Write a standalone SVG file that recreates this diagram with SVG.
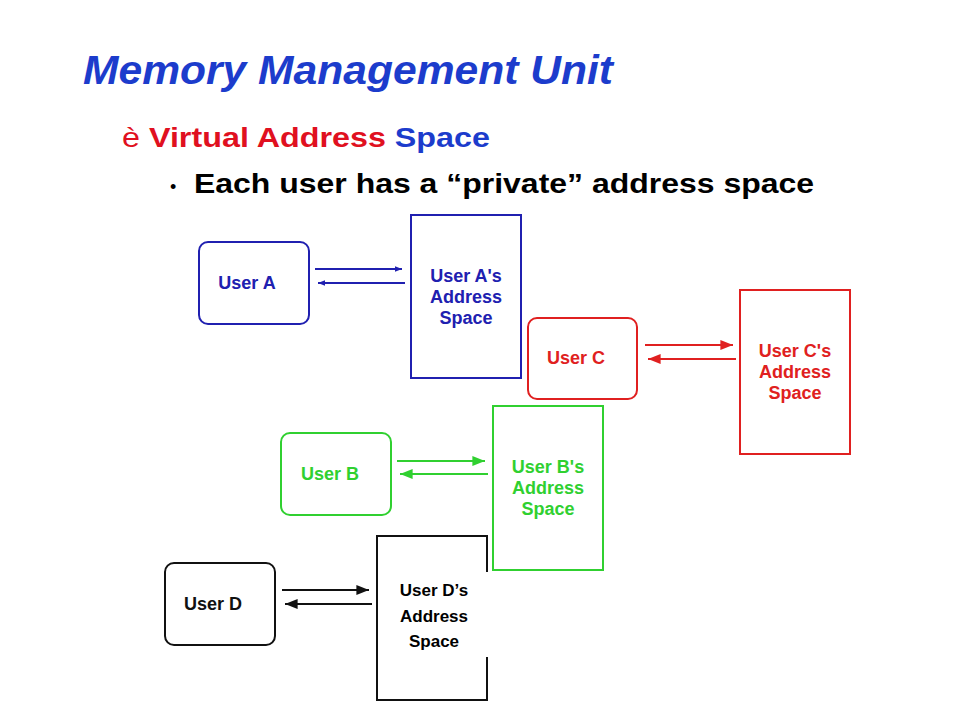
<svg xmlns="http://www.w3.org/2000/svg" width="960" height="720" viewBox="0 0 960 720">
<style>
.ub{fill:#fff;stroke-width:2}
.sp{fill:#fff;stroke-width:2}
.lbl{font-family:"Liberation Sans",Arial,sans-serif;font-weight:bold;font-size:18px;text-anchor:middle}
line{stroke-width:1.8}
</style>
<defs>
<marker id="ab" viewBox="0 0 10 10" refX="10" refY="5" markerWidth="7" markerHeight="7" orient="auto" markerUnits="userSpaceOnUse"><path d="M0,1 L10,5 L0,9 z" fill="#2020b0"/></marker>
<marker id="ar" viewBox="0 0 10 10" refX="10" refY="5" markerWidth="7" markerHeight="7" orient="auto"><path d="M0,1 L10,5 L0,9 z" fill="#e02020"/></marker>
<marker id="ag" viewBox="0 0 10 10" refX="10" refY="5" markerWidth="7" markerHeight="7" orient="auto"><path d="M0,1 L10,5 L0,9 z" fill="#30d030"/></marker>
<marker id="ak" viewBox="0 0 10 10" refX="10" refY="5" markerWidth="7" markerHeight="7" orient="auto"><path d="M0,1 L10,5 L0,9 z" fill="#111"/></marker>
</defs>
<rect width="960" height="720" fill="#fff"/>
<text x="83" y="84" font-family="Liberation Sans,Arial,sans-serif" font-weight="bold" font-style="italic" font-size="40" fill="#1c3ccc" textLength="530" lengthAdjust="spacingAndGlyphs">Memory Management Unit</text>
<text x="122" y="147" font-family="Liberation Sans,Arial,sans-serif" font-size="28" fill="#e01020" textLength="368" lengthAdjust="spacingAndGlyphs">è <tspan font-weight="bold">Virtual Address</tspan> <tspan font-weight="bold" fill="#1c3ccc">Space</tspan></text>
<text x="170" y="193" font-family="Liberation Sans,Arial,sans-serif" font-size="18" fill="#000">•</text>
<text x="194" y="193" font-family="Liberation Sans,Arial,sans-serif" font-weight="bold" font-size="28" fill="#000" textLength="620" lengthAdjust="spacingAndGlyphs">Each user has a “private” address space</text>

<g id="userA"><rect x="199" y="242" width="110" height="82" rx="9" class="ub" stroke="#2020b0"/><text x="247" y="289" class="lbl" fill="#2020b0">User A</text></g>
<g id="spaceA"><rect x="411" y="215" width="110" height="163" class="sp" stroke="#2020b0"/><text class="lbl" fill="#2020b0"><tspan x="466" y="282">User A's</tspan><tspan x="466" y="303">Address</tspan><tspan x="466" y="324">Space</tspan></text></g>
<g id="userC"><rect x="528" y="318" width="109" height="81" rx="9" class="ub" stroke="#e02020"/><text x="576" y="364" class="lbl" fill="#e02020">User C</text></g>
<g id="spaceC"><rect x="740" y="290" width="110" height="164" class="sp" stroke="#e02020"/><text class="lbl" fill="#e02020"><tspan x="795" y="357">User C's</tspan><tspan x="795" y="378">Address</tspan><tspan x="795" y="399">Space</tspan></text></g>
<g id="userB"><rect x="281" y="433" width="110" height="82" rx="9" class="ub" stroke="#30d030"/><text x="330" y="480" class="lbl" fill="#30d030">User B</text></g>
<g id="spaceB"><rect x="493" y="406" width="110" height="164" class="sp" stroke="#30d030"/><text class="lbl" fill="#30d030"><tspan x="548" y="473">User B's</tspan><tspan x="548" y="494">Address</tspan><tspan x="548" y="515">Space</tspan></text></g>
<g id="userD"><rect x="165" y="563" width="110" height="82" rx="9" class="ub" stroke="#111"/><text x="213" y="610" class="lbl" fill="#111">User D</text></g>
<g id="spaceD"><path d="M487,572 V536 H377 V700 H487 V657" fill="#fff" stroke="#111" stroke-width="2"/><text font-family="Liberation Sans,Arial,sans-serif" font-weight="bold" font-size="17" text-anchor="middle" fill="#000"><tspan x="434" y="596">User D’s</tspan><tspan x="434" y="622">Address</tspan><tspan x="434" y="647">Space</tspan></text></g>

<g id="connectors">
<line x1="315" y1="269" x2="402" y2="269" stroke="#2020b0" marker-end="url(#ab)"/>
<line x1="405" y1="283" x2="318" y2="283" stroke="#2020b0" marker-end="url(#ab)"/>
<line x1="645" y1="345" x2="733" y2="345" stroke="#e02020" marker-end="url(#ar)"/>
<line x1="736" y1="359" x2="648" y2="359" stroke="#e02020" marker-end="url(#ar)"/>
<line x1="397" y1="461" x2="485" y2="461" stroke="#30d030" marker-end="url(#ag)"/>
<line x1="488" y1="474" x2="400" y2="474" stroke="#30d030" marker-end="url(#ag)"/>
<line x1="282" y1="590" x2="369" y2="590" stroke="#111" marker-end="url(#ak)"/>
<line x1="372" y1="604" x2="285" y2="604" stroke="#111" marker-end="url(#ak)"/>
</g>
</svg>
